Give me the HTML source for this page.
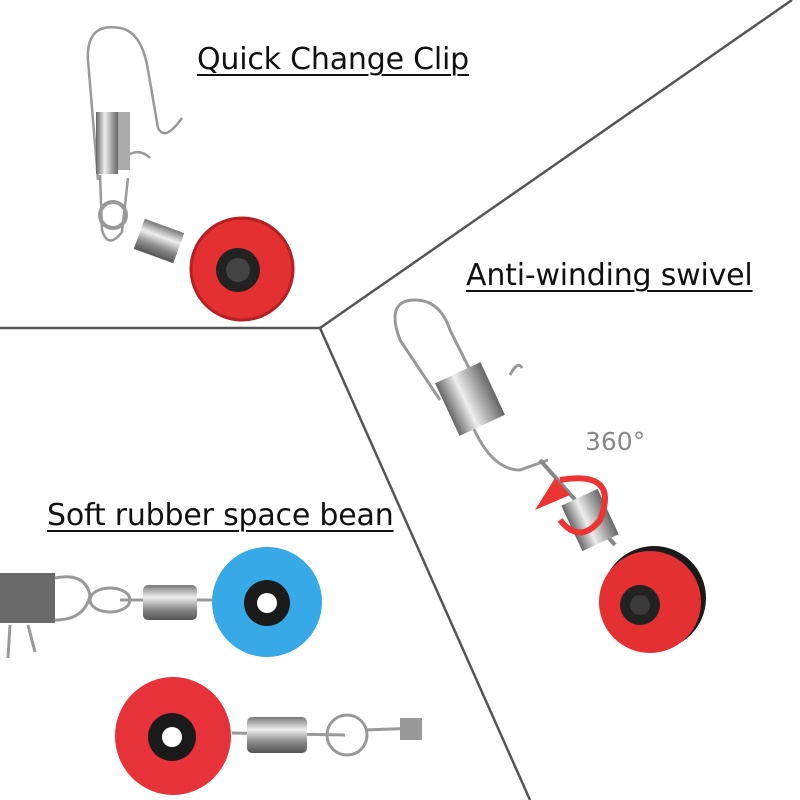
<!DOCTYPE html>
<html><head><meta charset="utf-8"><style>
body{margin:0;background:#fff;}
.t{position:absolute;font-family:"DejaVu Sans","Liberation Sans",sans-serif;font-size:30px;color:#111;text-decoration:underline;text-decoration-thickness:2px;text-underline-offset:5px;white-space:nowrap;letter-spacing:-0.2px}
</style></head><body>
<div style="position:relative;width:800px;height:800px;overflow:hidden">
<svg width="800" height="800" style="position:absolute;left:0;top:0">
<defs>
<linearGradient id="m" x1="0" x2="0" y1="0" y2="1"><stop offset="0" stop-color="#777"/><stop offset=".35" stop-color="#eee"/><stop offset=".7" stop-color="#888"/><stop offset="1" stop-color="#555"/></linearGradient>
<linearGradient id="mv" x1="0" x2="1"><stop offset="0" stop-color="#666"/><stop offset=".4" stop-color="#eee"/><stop offset="1" stop-color="#666"/></linearGradient>
</defs>
<g stroke="#555" stroke-width="2.5" fill="none">
<line x1="0" y1="328" x2="320" y2="328"/>
<line x1="320" y1="328" x2="792" y2="0"/>
<line x1="320" y1="328" x2="530" y2="800"/>
</g>
<g fill="none" stroke="#999" stroke-width="2.5">
<path d="M98 180 L88 60 Q86 22 120 28 Q142 32 148 70 L158 128 Q165 142 182 118"/>
<path d="M100 175 L102 230 Q108 250 122 232 L128 178"/>
<path d="M128 155 Q140 148 150 158"/>
<circle cx="113" cy="215" r="13" stroke-width="4"/>
</g>
<rect x="96" y="112" width="22" height="62" fill="url(#mv)"/>
<rect x="118" y="112" width="12" height="58" fill="#aaa"/>
<rect x="138" y="225" width="42" height="32" fill="url(#m)" transform="rotate(20 159 241)"/>
<circle cx="242" cy="269" r="51" fill="#e53032"/>
<circle cx="242" cy="269" r="51" fill="none" stroke="#b52022" stroke-width="3"/>
<circle cx="238" cy="270" r="22" fill="#222"/><circle cx="238" cy="270" r="12" fill="#444"/>
<g fill="none" stroke="#999" stroke-width="3">
<path d="M440 400 L400 340 Q385 300 415 300 Q440 300 450 330 L470 370"/>
<path d="M470 420 Q490 470 520 470 L548 460"/>
<path d="M510 375 Q518 360 522 368"/>
</g>
<rect x="445" y="370" width="50" height="58" fill="url(#mv)" transform="rotate(-25 470 399)"/>
<line x1="540" y1="460" x2="615" y2="545" stroke="#888" stroke-width="4"/>
<rect x="570" y="495" width="40" height="50" fill="url(#mv)" transform="rotate(-25 590 520)"/>
<path d="M560 480 Q620 470 600 520 Q580 545 560 520" fill="none" stroke="#e33" stroke-width="6"/>
<path d="M535 510 L555 478 L570 495 Z" fill="#e33"/>
<circle cx="654" cy="598" r="52" fill="#1a1a1a"/>
<circle cx="650" cy="602" r="51" fill="#e53032"/>
<circle cx="640" cy="605" r="20" fill="#222"/><circle cx="640" cy="605" r="10" fill="#3a3a3a"/>
<rect x="0" y="573" width="55" height="50" fill="#6a6a6a"/>
<g fill="none" stroke="#999" stroke-width="3">
<path d="M55 578 Q85 572 90 595 Q85 620 55 620"/>
<ellipse cx="110" cy="600" rx="20" ry="12"/>
<path d="M10 625 L8 658 M28 625 L35 652"/>
<line x1="120" y1="600" x2="215" y2="600"/>
<line x1="232" y1="733" x2="345" y2="735"/>
<circle cx="347" cy="735" r="20"/>
<path d="M365 730 L420 728"/>
</g>
<rect x="143" y="585" width="54" height="35" rx="5" fill="url(#m)"/>
<circle cx="267" cy="602" r="55" fill="#36a9e6"/>
<circle cx="267" cy="603" r="23" fill="#1a1a1a"/><circle cx="267" cy="603" r="10" fill="#fff"/>
<rect x="247" y="717" width="60" height="36" rx="5" fill="url(#m)"/>
<rect x="400" y="718" width="22" height="22" fill="#999"/>
<ellipse cx="173" cy="736" rx="58" ry="59" fill="#e8323a"/>
<circle cx="172" cy="737" r="24" fill="#1a1a1a"/><circle cx="172" cy="737" r="10" fill="#fff"/>
<text x="585" y="450" font-family="DejaVu Sans,Liberation Sans,sans-serif" font-size="25" fill="#888">360°</text>
</svg>
<div class="t" style="left:197px;top:42px">Quick Change Clip</div>
<div class="t" style="left:466px;top:258px">Anti-winding swivel</div>
<div class="t" style="left:47px;top:498px">Soft rubber space bean</div>
</div>
</body></html>
